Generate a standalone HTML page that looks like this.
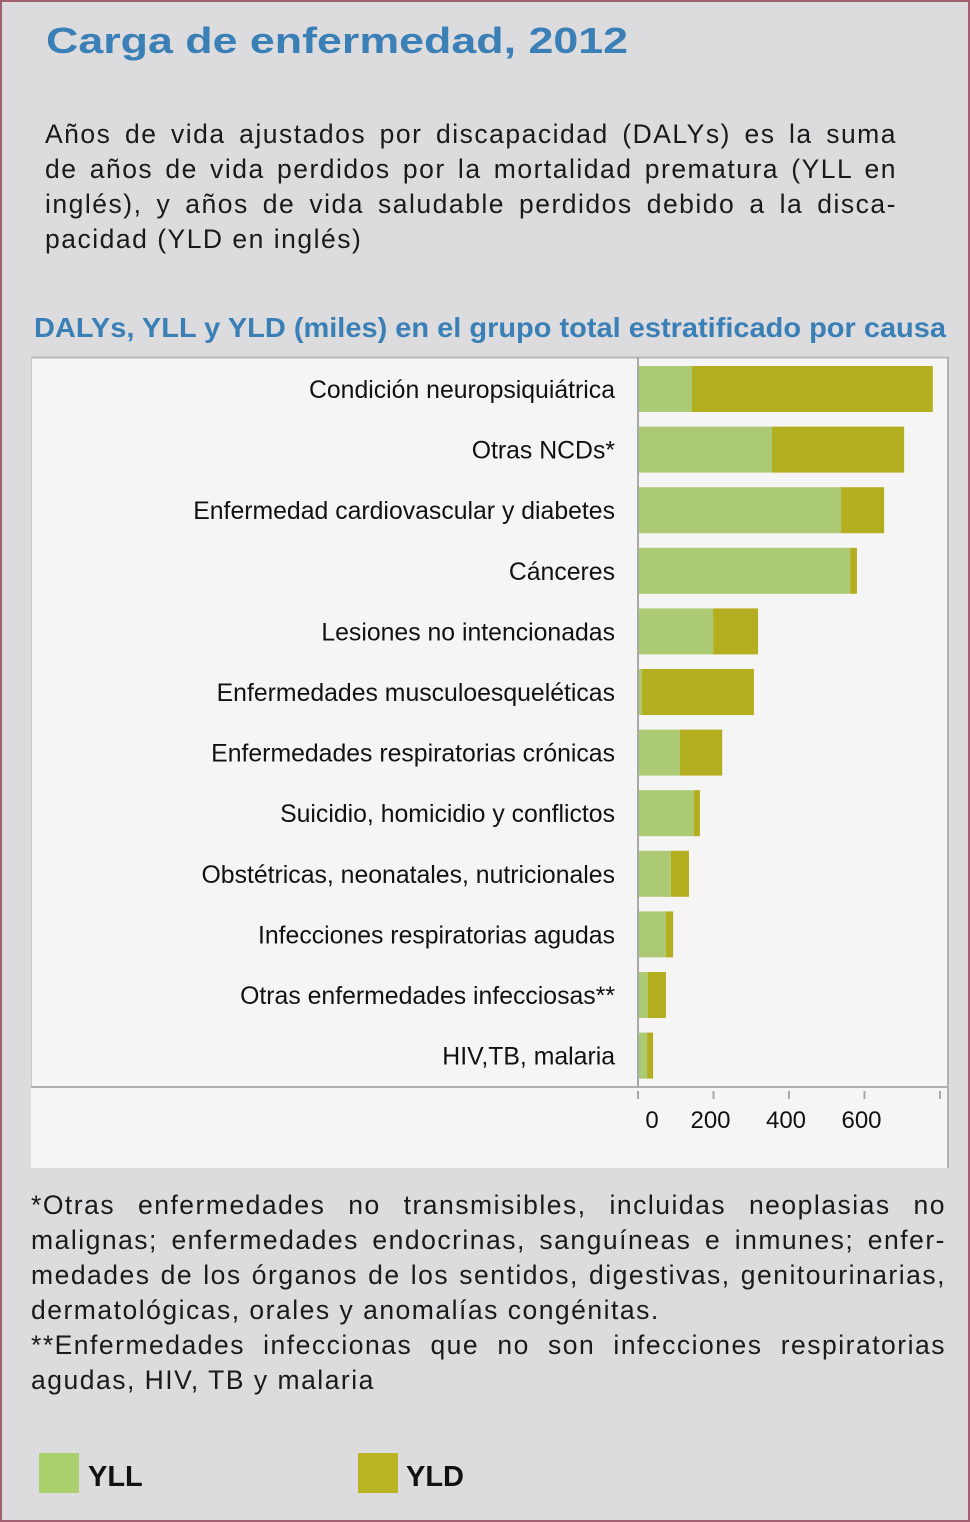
<!DOCTYPE html>
<html><head><meta charset="utf-8"><style>
html,body{margin:0;padding:0;background:#dcdbdd;}
body{position:relative;width:970px;height:1522px;overflow:hidden;}
svg{display:block;font-family:"Liberation Sans",Arial,sans-serif;position:absolute;left:0;top:0;}
.txt{position:absolute;font-family:"Liberation Sans",Arial,sans-serif;font-size:26.5px;color:#1a1a1a;line-height:35px;letter-spacing:1.5px;}
.j{text-align:justify;text-align-last:justify;white-space:normal;}
.l{white-space:nowrap;}
</style></head><body>
<svg width="970" height="1522" viewBox="0 0 970 1522">
<rect x="1" y="1" width="968" height="1520" fill="#dcdbdd" stroke="#a0606f" stroke-width="2"/>
<text x="46" y="53" font-size="36" font-weight="bold" fill="#3a80b6" textLength="582" lengthAdjust="spacingAndGlyphs">Carga de enfermedad, 2012</text>
<text x="34" y="337" font-size="28" font-weight="bold" fill="#3a80b6" textLength="912" lengthAdjust="spacingAndGlyphs">DALYs, YLL y YLD (miles)  en el grupo total estratificado por causa</text>
<rect x="31" y="357" width="917" height="811" fill="#f5f5f5"/>
<line x1="31" y1="357.5" x2="948" y2="357.5" stroke="#b8b8b8" stroke-width="2"/>
<line x1="31.5" y1="357" x2="31.5" y2="1087" stroke="#c8c8c8" stroke-width="1"/>
<line x1="948" y1="357" x2="948" y2="1168" stroke="#b0b0b0" stroke-width="2"/>
<g id="bars"></g>
<g id="labels" font-size="24.8" fill="#111" text-anchor="end"></g>
<line x1="31" y1="1087" x2="948" y2="1087" stroke="#b0b0b0" stroke-width="2"/>
<line x1="638" y1="357" x2="638" y2="1087" stroke="#a8a8a8" stroke-width="2"/>
<g id="ticks" font-size="24" fill="#111" text-anchor="middle"></g>
<g>
<rect x="39" y="1453" width="40" height="40" fill="#abd16e"/>
<text x="88" y="1486" font-size="29" font-weight="bold" fill="#111">YLL</text>
<rect x="358" y="1453" width="40" height="40" fill="#b9b524"/>
<text x="406" y="1486" font-size="29" font-weight="bold" fill="#111">YLD</text>
</g>
</svg>
<div class="txt" style="left:45px;top:117px;width:852px;">
<div class="j">Años de vida ajustados por discapacidad (DALYs) es la suma</div>
<div class="j">de años de vida perdidos por la mortalidad prematura (YLL en</div>
<div class="j">inglés), y años de vida saludable perdidos debido a la disca-</div>
<div class="l">pacidad (YLD en inglés)</div>
</div>
<div class="txt" style="left:31px;top:1188px;width:915px;">
<div class="j">*Otras enfermedades no transmisibles, incluidas neoplasias no</div>
<div class="j">malignas; enfermedades endocrinas, sanguíneas e inmunes; enfer-</div>
<div class="j">medades de los órganos de los sentidos, digestivas, genitourinarias,</div>
<div class="l">dermatológicas, orales y anomalías congénitas.</div>
<div class="j">**Enfermedades infeccionas que no son infecciones respiratorias</div>
<div class="l">agudas, HIV, TB y malaria</div>
</div>
<script>
const categories = ["Condición neuropsiquiátrica","Otras NCDs*","Enfermedad cardiovascular y diabetes","Cánceres","Lesiones no intencionadas","Enfermedades musculoesqueléticas","Enfermedades respiratorias crónicas","Suicidio, homicidio y conflictos","Obstétricas, neonatales, nutricionales","Infecciones respiratorias agudas","Otras enfermedades infecciosas**","HIV,TB, malaria"];
const yllValues = [143, 355, 538, 562, 199, 10, 111, 148, 87, 74, 26, 24];
const yldValues = [638, 350, 114, 18, 119, 297, 112, 16, 48, 19, 48, 16];
const tickValues = [0, 200, 400, 600, 800];
const tickLabels = ["0", "200", "400", "600", ""];

const NS = "http://www.w3.org/2000/svg";
const x0 = 638, pxPer = 0.3775;
function xScale(v){ return x0 + v * pxPer; }
function yBand(i){ return 366 + i * 60.6; }
const barH = 46;
const barsG = document.getElementById("bars");
const labelsG = document.getElementById("labels");
const ticksG = document.getElementById("ticks");
categories.forEach((c, i) => {
  const y = yBand(i);
  const r1 = document.createElementNS(NS, "rect");
  r1.setAttribute("x", xScale(0)); r1.setAttribute("y", y);
  r1.setAttribute("width", xScale(yllValues[i]) - xScale(0)); r1.setAttribute("height", barH);
  r1.setAttribute("fill", "#acca74");
  
  
  barsG.appendChild(r1);
  const r2 = document.createElementNS(NS, "rect");
  r2.setAttribute("x", xScale(yllValues[i])); r2.setAttribute("y", y);
  r2.setAttribute("width", xScale(yllValues[i] + yldValues[i]) - xScale(yllValues[i])); r2.setAttribute("height", barH);
  r2.setAttribute("fill", "#b3ad20");
  
  
  barsG.appendChild(r2);
  const t = document.createElementNS(NS, "text");
  t.setAttribute("x", 615); t.setAttribute("y", y + barH / 2 + 9);
  t.textContent = c;
  
  
  labelsG.appendChild(t);
});
tickValues.forEach((v, i) => {
  const l = document.createElementNS(NS, "line");
  l.setAttribute("x1", xScale(v)); l.setAttribute("x2", xScale(v));
  l.setAttribute("y1", 1091); l.setAttribute("y2", 1099);
  l.setAttribute("stroke", "#aaa"); l.setAttribute("stroke-width", "2");
  
  
  ticksG.appendChild(l);
  const t = document.createElementNS(NS, "text");
  t.setAttribute("x", i === 0 ? xScale(v) + 14 : xScale(v) - 3); t.setAttribute("y", 1128);
  t.textContent = tickLabels[i];
  
  
  ticksG.appendChild(t);
});
</script>
</body></html>
